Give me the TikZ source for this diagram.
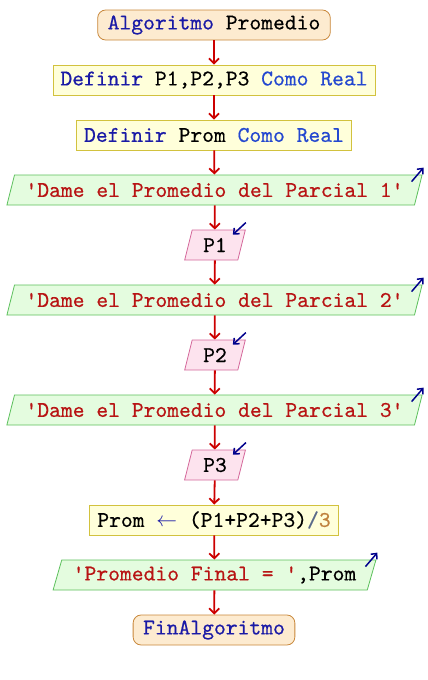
\documentclass[tikz,border=0pt]{standalone}
\usepackage{fontspec}
\newfontfamily\codigo{lmmono10-regular.otf}[FakeBold=0.5]
\usetikzlibrary{shapes.geometric,arrows.meta}

\definecolor{bordeterm}{HTML}{C8873A}
\definecolor{fondoterm}{HTML}{FDEBD0}
\definecolor{bordeproc}{HTML}{D2C23E}
\definecolor{fondoproc}{HTML}{FFFFDA}
\definecolor{bordesal}{HTML}{5CC05C}
\definecolor{fondosal}{HTML}{E4FCDF}
\definecolor{bordeent}{HTML}{D4679A}
\definecolor{fondoent}{HTML}{FDE3EE}
\definecolor{rojo}{HTML}{CC0000}
\definecolor{clave}{HTML}{1A1AA6}
\definecolor{tipo}{HTML}{2448D0}
\definecolor{cadena}{HTML}{B81414}
\definecolor{numero}{HTML}{C0823E}
\definecolor{oper}{HTML}{5A6A8A}
\definecolor{azul}{HTML}{00008C}

\tikzset{
  texto/.style={font=\codigo\fontsize{22.5}{24}\selectfont, text=black},
  terminal/.style={texto, draw=bordeterm, fill=fondoterm, rounded corners=8pt,
    minimum height=30pt, inner xsep=10pt, line width=0.8pt},
  proceso/.style={texto, rectangle, draw=bordeproc, fill=fondoproc,
    minimum height=30pt, inner xsep=7.5pt, line width=0.8pt},
  salida/.style={texto, trapezium, trapezium left angle=70, trapezium right angle=110,
    trapezium stretches body, draw=bordesal, fill=fondosal,
    minimum height=30pt, inner xsep=11pt, line width=0.8pt},
  entrada/.style={salida, draw=bordeent, fill=fondoent, minimum width=60pt},
  flecha/.style={-{Straight Barb[length=5pt,width=10pt]}, line width=1.8pt, rojo},
  icono/.style={-{Straight Barb[length=4.5pt,width=8pt]}, line width=1.5pt, azul}
}

\begin{document}
\begin{tikzpicture}[x=1pt, y=-1pt]

\useasboundingbox (0,0) rectangle (428,680);

\node[terminal] (inicio) at (214,25) {\textcolor{clave}{Algoritmo} Promedio};
\node[proceso] (def1) at (214,80) {\textcolor{clave}{Definir} P1,P2,P3 \textcolor{tipo}{Como Real}};
\node[proceso] (def2) at (214,135) {\textcolor{clave}{Definir} Prom \textcolor{tipo}{Como Real}};

\node[salida] (sal1) at (214.5,190) {\textcolor{cadena}{'Dame el Promedio del Parcial 1'}};
\node[entrada] (ent1) at (215,245) {P1};
\node[salida] (sal2) at (214.5,300) {\textcolor{cadena}{'Dame el Promedio del Parcial 2'}};
\node[entrada] (ent2) at (215,355) {P2};
\node[salida] (sal3) at (214.5,410) {\textcolor{cadena}{'Dame el Promedio del Parcial 3'}};
\node[entrada] (ent3) at (215,465) {P3};

\node[proceso] (asig) at (214,520) {Prom \textcolor{clave}{$\leftarrow$} (P1+P2+P3)\textcolor{oper}{/}\textcolor{numero}{3}};
\node[salida] (salf) at (214.5,575) {\textcolor{cadena}{'Promedio Final = '},Prom};
\node[terminal] (fin) at (214,630) {\textcolor{clave}{FinAlgoritmo}};

% flechas del flujo
\draw[flecha] (inicio) -- (def1);
\draw[flecha] (def1) -- (def2);
\draw[flecha] (def2) -- (sal1);
\draw[flecha] (sal1) -- (ent1);
\draw[flecha] (ent1) -- (sal2);
\draw[flecha] (sal2) -- (ent2);
\draw[flecha] (ent2) -- (sal3);
\draw[flecha] (sal3) -- (ent3);
\draw[flecha] (ent3) -- (asig);
\draw[flecha] (asig) -- (salf);
\draw[flecha] (salf) -- (fin);

% iconos de escritura y lectura
\draw[icono] ([shift={(-11pt,-7pt)}]sal1.top right corner) -- ([shift={(1pt,7pt)}]sal1.top right corner);
\draw[icono] ([shift={(-11pt,-7pt)}]sal2.top right corner) -- ([shift={(1pt,7pt)}]sal2.top right corner);
\draw[icono] ([shift={(-11pt,-7pt)}]sal3.top right corner) -- ([shift={(1pt,7pt)}]sal3.top right corner);
\draw[icono] ([shift={(-11pt,-7pt)}]salf.top right corner) -- ([shift={(1pt,7pt)}]salf.top right corner);

\draw[icono] ([shift={(0pt,7pt)}]ent1.top right corner) -- ([shift={(-13pt,-5pt)}]ent1.top right corner);
\draw[icono] ([shift={(0pt,7pt)}]ent2.top right corner) -- ([shift={(-13pt,-5pt)}]ent2.top right corner);
\draw[icono] ([shift={(0pt,7pt)}]ent3.top right corner) -- ([shift={(-13pt,-5pt)}]ent3.top right corner);

\end{tikzpicture}
\end{document}
